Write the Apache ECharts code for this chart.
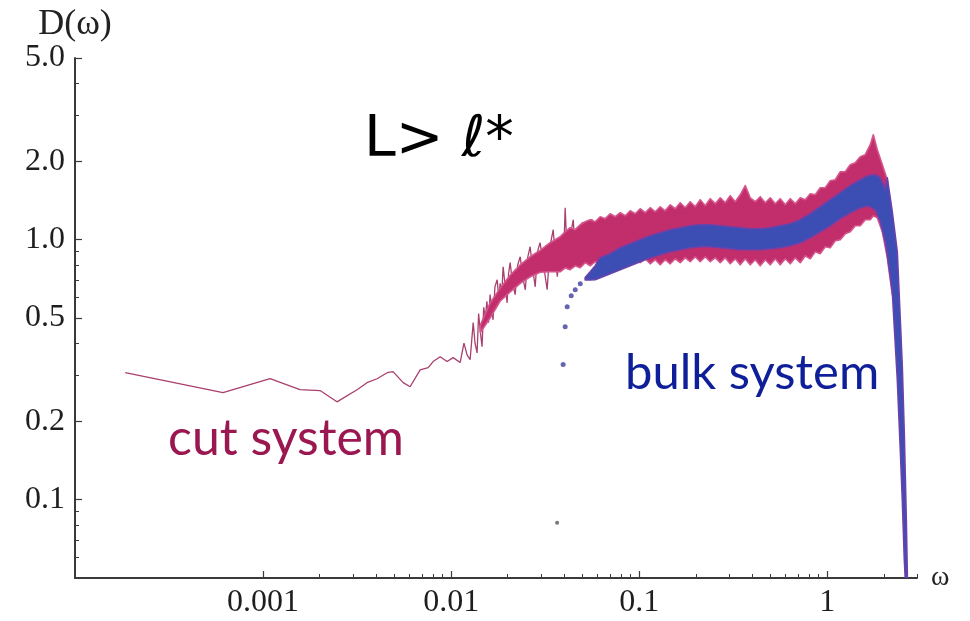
<!DOCTYPE html>
<html>
<head>
<meta charset="utf-8">
<script src="https://cdn.jsdelivr.net/npm/echarts@6/dist/echarts.min.js"></script>
<style>
  html, body { margin: 0; padding: 0; background: #ffffff; }
  #chart { width: 970px; height: 621px; }
</style>
</head>
<body>
<div id="chart"></div>
<script>
// Axis ranges and ticks (log-log plot)
const omegaRange = [1e-4, 3];
const dRange = [0.05, 5];
const xTickLabels = [0.001, 0.01, 0.1, 1];
const xMinorTicks = [0.002, 0.003, 0.004, 0.005, 0.006, 0.007, 0.008, 0.009,
  0.02, 0.03, 0.04, 0.05, 0.06, 0.07, 0.08, 0.09,
  0.2, 0.3, 0.4, 0.5, 0.6, 0.7, 0.8, 0.9, 2, 3];
const yTickLabels = [0.1, 0.2, 0.5, 1, 2, 5];
const yMinorTicks = [0.06, 0.07, 0.08, 0.09, 0.3, 0.4, 0.6, 0.7, 0.8, 0.9, 3, 4];

// Cut system: spectrum as a joined line [omega, D]
const cutLine = [
  [1.85e-4, 0.308], [6.12e-4, 0.258], [1.09e-3, 0.292], [1.57e-3, 0.265], [2.01e-3, 0.263],
  [2.47e-3, 0.238], [3.16e-3, 0.265], [3.57e-3, 0.282], [4.04e-3, 0.292], [4.57e-3, 0.308],
  [4.91e-3, 0.311], [5.56e-3, 0.282], [6.05e-3, 0.272], [6.84e-3, 0.316], [7.55e-3, 0.322],
  [8.02e-3, 0.340], [8.74e-3, 0.355], [9.52e-3, 0.340], [1.025e-2, 0.352], [1.117e-2, 0.337],
  [1.17e-2, 0.40], [1.217e-2, 0.36], [1.262e-2, 0.346], [1.31e-2, 0.48], [1.34e-2, 0.40],
  [1.374e-2, 0.367], [1.40e-2, 0.52], [1.426e-2, 0.45], [1.46e-2, 0.388], [1.49e-2, 0.55],
  [1.518e-2, 0.50], [1.55e-2, 0.58], [1.58e-2, 0.48], [1.611e-2, 0.615], [1.64e-2, 0.55],
  [1.67e-2, 0.492], [1.71e-2, 0.66], [1.757e-2, 0.702], [1.79e-2, 0.60], [1.823e-2, 0.68],
  [1.86e-2, 0.62], [1.89e-2, 0.787], [1.94e-2, 0.66], [1.985e-2, 0.572], [2.02e-2, 0.74],
  [2.06e-2, 0.816], [2.12e-2, 0.68], [2.19e-2, 0.615], [2.26e-2, 0.80], [2.33e-2, 0.86],
  [2.40e-2, 0.72], [2.48e-2, 0.642], [2.55e-2, 0.85], [2.63e-2, 0.94], [2.71e-2, 0.78],
  [2.80e-2, 0.659], [2.88e-2, 0.90], [2.97e-2, 0.974], [3.10e-2, 0.80], [3.24e-2, 0.642],
  [3.36e-2, 0.95], [3.49e-2, 1.093], [3.58e-2, 0.85], [3.67e-2, 0.721], [3.78e-2, 0.95],
  [3.89e-2, 1.045], [3.97e-2, 0.90], [4.04e-2, 1.328], [4.12e-2, 0.95], [4.19e-2, 0.767],
  [4.32e-2, 1.05], [4.46e-2, 1.194], [4.58e-2, 0.86], [4.70e-2, 0.80], [4.85e-2, 1.10],
  [5.00e-2, 1.17], [5.15e-2, 0.90], [5.30e-2, 0.82], [5.45e-2, 1.12], [5.60e-2, 1.20],
  [5.80e-2, 0.88], [6.00e-2, 0.83], [6.20e-2, 1.22]
];

// Cut system, dense high-frequency part: [omega, lower D, upper D]
const cutBand = [
  [0.0143, 0.44, 0.47], [0.0161, 0.50, 0.57], [0.0182, 0.58, 0.65], [0.0206, 0.63, 0.73],
  [0.0233, 0.68, 0.80], [0.02632, 0.72, 0.86], [0.02974, 0.75, 0.91], [0.03362, 0.753, 0.974],
  [0.0380, 0.753, 1.027], [0.04041, 0.780, 1.073], [0.04295, 0.767, 1.112], [0.04567, 0.794, 1.093],
  [0.04855, 0.780, 1.142], [0.05162, 0.816, 1.173], [0.05487, 0.794, 1.194], [0.05835, 0.823, 1.173],
  [0.06203, 0.801, 1.226], [0.06595, 0.830, 1.205], [0.07011, 0.801, 1.259], [0.07455, 0.830, 1.226],
  [0.07924, 0.808, 1.270], [0.08426, 0.838, 1.237], [0.08956, 0.808, 1.292], [0.09524, 0.845, 1.259],
  [0.1012, 0.816, 1.316], [0.1076, 0.845, 1.270], [0.1144, 0.808, 1.328], [0.1217, 0.838, 1.281],
  [0.1293, 0.801, 1.339], [0.1375, 0.838, 1.292], [0.1462, 0.808, 1.363], [0.1554, 0.845, 1.316],
  [0.1652, 0.816, 1.388], [0.1757, 0.853, 1.328], [0.1867, 0.823, 1.400], [0.1986, 0.860, 1.339],
  [0.2111, 0.823, 1.425], [0.2244, 0.860, 1.351], [0.2386, 0.823, 1.438], [0.2537, 0.853, 1.376],
  [0.2697, 0.816, 1.450], [0.2868, 0.853, 1.388], [0.3048, 0.808, 1.477], [0.3241, 0.845, 1.400],
  [0.3445, 0.801, 1.489], [0.3663, 0.845, 1.614], [0.3894, 0.801, 1.450], [0.4141, 0.838, 1.400],
  [0.4401, 0.794, 1.464], [0.4680, 0.838, 1.388], [0.4975, 0.801, 1.450], [0.5290, 0.845, 1.376],
  [0.5623, 0.801, 1.438], [0.5979, 0.845, 1.363], [0.6356, 0.808, 1.438], [0.6758, 0.853, 1.376],
  [0.7184, 0.816, 1.450], [0.7638, 0.868, 1.425], [0.8120, 0.845, 1.502], [0.8634, 0.899, 1.489],
  [0.9178, 0.884, 1.585], [0.9758, 0.940, 1.585], [1.037, 0.932, 1.686], [1.103, 0.991, 1.701],
  [1.173, 1.000, 1.826], [1.247, 1.054, 1.826], [1.325, 1.073, 1.943], [1.409, 1.132, 1.976],
  [1.498, 1.132, 2.086], [1.592, 1.194, 2.123], [1.693, 1.194, 2.320], [1.757, 1.237, 2.534],
  [1.845, 1.215, 2.219], [1.962, 1.073, 1.943], [2.085, 0.853, 1.701], [2.217, 0.615, 1.0]
];

// Bulk system: dense point cloud as [omega, lower D, upper D]
const bulkBand = [
  [0.0516, 0.700, 0.716], [0.05487, 0.700, 0.753], [0.05835, 0.702, 0.794], [0.06203, 0.714, 0.853], [0.07011, 0.740, 0.884],
  [0.07924, 0.767, 0.932], [0.08956, 0.794, 0.965], [0.1012, 0.823, 1.000], [0.1144, 0.853, 1.036],
  [0.1293, 0.876, 1.064], [0.1462, 0.899, 1.093], [0.1652, 0.915, 1.112], [0.1867, 0.932, 1.132],
  [0.2111, 0.940, 1.142], [0.2386, 0.940, 1.142], [0.2697, 0.932, 1.132], [0.3048, 0.923, 1.122],
  [0.3445, 0.915, 1.112], [0.3894, 0.915, 1.102], [0.4401, 0.915, 1.102], [0.4975, 0.923, 1.112],
  [0.5623, 0.932, 1.132], [0.6356, 0.948, 1.152], [0.7184, 0.974, 1.194], [0.8120, 1.018, 1.259],
  [0.9178, 1.073, 1.339], [1.037, 1.132, 1.425], [1.173, 1.205, 1.516], [1.325, 1.270, 1.614],
  [1.498, 1.328, 1.701], [1.652, 1.351, 1.763], [1.800, 1.304, 1.778], [1.914, 1.173, 1.731],
  [2.035, 0.982, 1.556], [2.085, 0.876, 1.731], [2.217, 0.631, 1.281], [2.357, 0.290, 0.899],
  [2.445, 0.156, 0.492], [2.506, 0.100, 0.325], [2.568, 0.059, 0.179], [2.632, 0.041, 0.084],
  [2.664, 0.040, 0.052]
];

// Bulk system: isolated low-frequency points [omega, D]
const bulkSparse = [
  [0.0394, 0.331], [0.0404, 0.463], [0.0414, 0.552], [0.0435, 0.609],
  [0.0457, 0.642], [0.0486, 0.677]
];
const bulkStray = [[0.0366, 0.0816]];

const lg = Math.log10;
const toLog = pts => pts.map(p => [lg(p[0]), lg(p[1])]);

function bandSeries(name, rows, fill, stroke, z) {
  return {
    name, type: 'custom', coordinateSystem: 'cartesian2d', clip: true, silent: true, z,
    data: rows.map(r => [lg(r[0]), lg(r[1]), lg(r[2])]),
    encode: { x: 0, y: [1, 2] },
    renderItem: (params, api) => {
      if (params.dataIndex !== 0) return null;
      const top = rows.map(r => api.coord([lg(r[0]), lg(r[2])]));
      const bot = rows.map(r => api.coord([lg(r[0]), lg(r[1])])).reverse();
      return {
        type: 'polygon',
        shape: { points: top.concat(bot) },
        style: { fill, stroke, lineWidth: 1.6, lineJoin: 'round' }
      };
    }
  };
}

const labelFont = { fontFamily: '"Liberation Serif", "DejaVu Serif", serif', fontSize: 32, color: '#1e1e1e' };
const axisColor = '#3a3a3a';

const chart = echarts.init(document.getElementById('chart'), null, { renderer: 'canvas' });
chart.setOption({
  animation: false,
  backgroundColor: '#ffffff',
  grid: { left: 75, right: 53, top: 58, bottom: 43, containLabel: false, outerBoundsMode: 'none' },
  xAxis: [
    {
      type: 'value', min: lg(omegaRange[0]), max: lg(omegaRange[1]),
      name: 'ω', nameLocation: 'end', nameGap: 14,
      nameTextStyle: { fontFamily: '"Liberation Serif", serif', fontSize: 28, color: '#222' },
      axisLine: { onZero: false, lineStyle: { color: axisColor, width: 2 } },
      axisTick: { inside: true, length: 7, customValues: xTickLabels.map(lg), lineStyle: { color: axisColor, width: 1.2 } },
      axisLabel: {
        customValues: xTickLabels.map(lg), margin: 9, ...labelFont,
        formatter: v => String(xTickLabels.find(t => Math.abs(lg(t) - v) < 1e-9))
      },
      splitLine: { show: false }
    },
    {
      type: 'value', min: lg(omegaRange[0]), max: lg(omegaRange[1]), position: 'bottom',
      axisLine: { show: false, onZero: false },
      axisTick: { inside: true, length: 4, customValues: xMinorTicks.map(lg), lineStyle: { color: axisColor, width: 1 } },
      axisLabel: { show: false }, splitLine: { show: false }
    }
  ],
  yAxis: [
    {
      type: 'value', min: lg(dRange[0]), max: lg(dRange[1]),
      name: 'D(ω)', nameLocation: 'end', nameGap: 12,
      nameTextStyle: { fontFamily: '"Liberation Serif", serif', fontSize: 36, color: '#222' },
      axisLine: { onZero: false, lineStyle: { color: axisColor, width: 2 } },
      axisTick: { inside: true, length: 7, customValues: yTickLabels.map(lg), lineStyle: { color: axisColor, width: 1.2 } },
      axisLabel: {
        customValues: yTickLabels.map(lg), margin: 10, ...labelFont,
        formatter: v => Math.pow(10, v).toFixed(1)
      },
      splitLine: { show: false }
    },
    {
      type: 'value', min: lg(dRange[0]), max: lg(dRange[1]), position: 'left',
      axisLine: { show: false, onZero: false },
      axisTick: { inside: true, length: 4, customValues: yMinorTicks.map(lg), lineStyle: { color: axisColor, width: 1 } },
      axisLabel: { show: false }, splitLine: { show: false }
    }
  ],
  series: [
    {
      name: 'cut system', type: 'line', data: toLog(cutLine), showSymbol: false, silent: true, z: 2,
      lineStyle: { color: '#a8406e', width: 1.3 }
    },
    bandSeries('cut system band', cutBand, '#c22e6c', '#d4568c', 3),
    bandSeries('bulk system', bulkBand, '#3c4db3', '#6a42ac', 4),
    {
      name: 'bulk points', type: 'scatter', data: toLog(bulkSparse), symbolSize: 5, silent: true, z: 5,
      itemStyle: { color: '#3e3f9c' }
    },
    {
      name: 'bulk stray', type: 'scatter', data: toLog(bulkStray), symbolSize: 4, silent: true, z: 5,
      itemStyle: { color: '#555555' }
    }
  ],
  graphic: [
    { type: 'text', left: 364, top: 113, style: { text: 'L> ℓ*', font: '57px "DejaVu Sans", sans-serif', fill: '#000000' } },
    { type: 'text', left: 168, top: 414, style: { text: 'cut system', font: '50px Lato, sans-serif', fill: '#9a1750' } },
    { type: 'text', left: 625, top: 349, style: { text: 'bulk system', font: '49px Lato, sans-serif', fill: '#0f1f99' } }
  ]
});
</script>
</body>
</html>
